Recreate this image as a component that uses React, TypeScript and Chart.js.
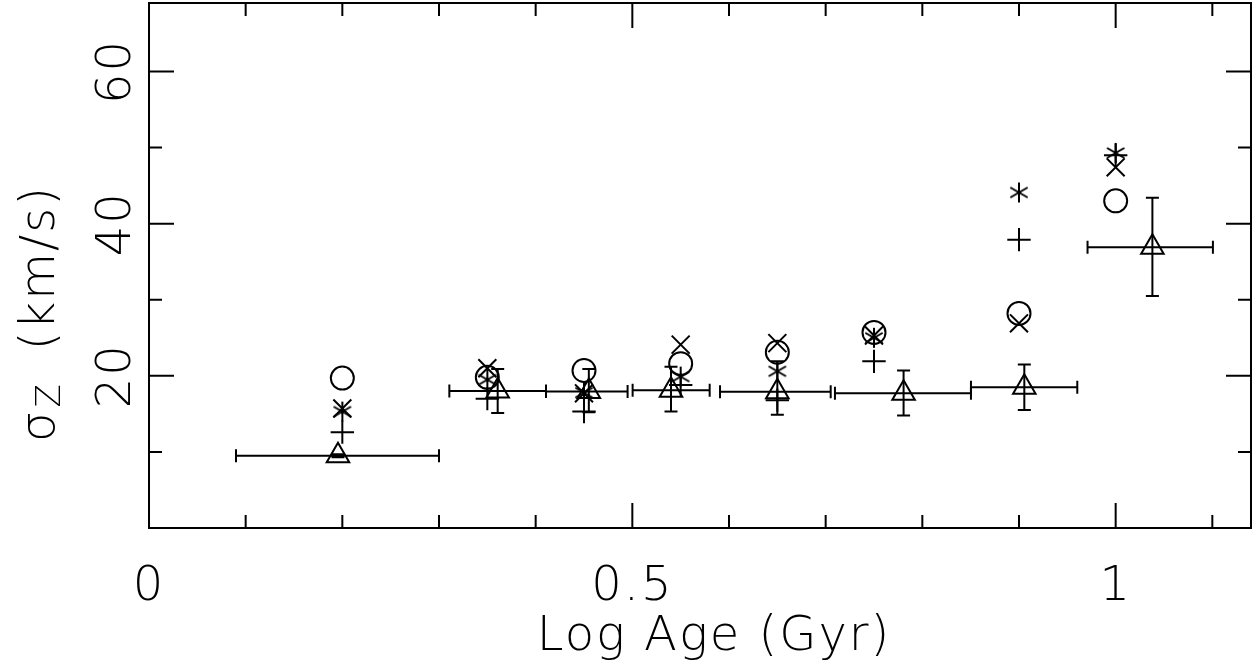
import { useEffect, useRef } from "react";
import { Chart, registerables } from "chart.js";

Chart.register(...registerables);

// Bin centres (log age, Gyr) used by the comparison samples
const sampleAges = [0.2, 0.35, 0.45, 0.55, 0.65, 0.75, 0.9, 1.0];

// Vertical velocity dispersion of the comparison samples (km/s)
const sigmaCircle = [19.7, 19.8, 20.7, 21.6, 23.1, 25.7, 28.2, 43.0];
const sigmaCrossRot = [15.7, 21.0, 17.7, 24.1, 24.3, 25.3, 26.9, 47.4];
const sigmaStar = [15.3, 19.5, 17.8, 19.9, 20.6, 25.0, 44.1, 49.3];
const sigmaPlus = [12.6, 17.0, 15.3, 18.8, 16.8, 21.9, 37.9, 49.0];

// Main sample: bin centre, bin edges and dispersion with its uncertainty
const binAge = [0.1955, 0.3607, 0.455, 0.54, 0.65, 0.7806, 0.9055, 1.038];
const binAgeLow = [0.09, 0.3107, 0.4107, 0.5003, 0.5907, 0.7096, 0.8503, 0.9709];
const binAgeHigh = [0.3, 0.4107, 0.4951, 0.58, 0.7052, 0.8503, 0.9603, 1.1006];
const binSigma = [9.5, 18.0, 17.95, 18.1, 17.9, 17.7, 18.5, 36.9];
const binSigmaLow = [9.3, 15.1, 15.2, 15.3, 14.9, 14.8, 15.5, 30.5];
const binSigmaHigh = [9.7, 20.9, 20.9, 21.2, 21.9, 20.7, 21.5, 43.4];

// Axis ticks and labels
const xMajorTicks = [0, 0.5, 1];
const xTickLabels = ["0", "0.5", "1"];
const xMinorTicks = [0.1, 0.2, 0.3, 0.4, 0.6, 0.7, 0.8, 0.9, 1.1];
const yMajorTicks = [20, 40, 60];
const yTickLabels = ["20", "40", "60"];
const yMinorTicks = [10, 30, 50];

const xTitle = "Log Age (Gyr)";
const yTitleSymbol = "σ";
const yTitleSub = "Z";
const yTitleUnit = "(km/s)";

const FONT_FAMILY = '"DejaVu Sans", "Liberation Sans", sans-serif';
const INK = "#000";

function makeAsterisk(r: number, lw: number): HTMLCanvasElement {
  const size = 2 * Math.ceil(r + lw);
  const c = document.createElement("canvas");
  c.width = size;
  c.height = size;
  const g = c.getContext("2d")!;
  g.strokeStyle = INK;
  g.lineWidth = lw;
  g.translate(size / 2, size / 2);
  for (let k = 0; k < 3; k++) {
    const ang = Math.PI / 2 + (k * Math.PI) / 3;
    g.beginPath();
    g.moveTo(Math.cos(ang) * r, Math.sin(ang) * r);
    g.lineTo(-Math.cos(ang) * r, -Math.sin(ang) * r);
    g.stroke();
  }
  return c;
}

const toPoints = (xs: number[], ys: number[]) => xs.map((x, i) => ({ x, y: ys[i] }));

const errorBarPlugin = {
  id: "errorBars",
  afterDatasetsDraw(chart: any) {
    const { ctx, scales } = chart;
    const xs = scales.x;
    const ys = scales.y;
    const cap = 6.5;
    ctx.save();
    ctx.strokeStyle = INK;
    ctx.lineWidth = 2;
    for (let i = 0; i < binAge.length; i++) {
      const px = xs.getPixelForValue(binAge[i]);
      const py = ys.getPixelForValue(binSigma[i]);
      const x0 = xs.getPixelForValue(binAgeLow[i]);
      const x1 = xs.getPixelForValue(binAgeHigh[i]);
      const y0 = ys.getPixelForValue(binSigmaLow[i]);
      const y1 = ys.getPixelForValue(binSigmaHigh[i]);
      ctx.beginPath();
      ctx.moveTo(x0, py);
      ctx.lineTo(x1, py);
      ctx.moveTo(x0, py - cap);
      ctx.lineTo(x0, py + cap);
      ctx.moveTo(x1, py - cap);
      ctx.lineTo(x1, py + cap);
      ctx.moveTo(px, y0);
      ctx.lineTo(px, y1);
      ctx.moveTo(px - cap, y0);
      ctx.lineTo(px + cap, y0);
      ctx.moveTo(px - cap, y1);
      ctx.lineTo(px + cap, y1);
      ctx.stroke();
    }
    ctx.restore();
  },
};

const framePlugin = {
  id: "frame",
  afterDraw(chart: any) {
    const { ctx, chartArea: a, scales } = chart;
    const xs = scales.x;
    const ys = scales.y;
    const major = 25;
    const minor = 13;
    ctx.save();
    ctx.strokeStyle = INK;
    ctx.lineWidth = 2;
    ctx.strokeRect(a.left, a.top, a.right - a.left, a.bottom - a.top);

    ctx.beginPath();
    const xTick = (v: number, len: number) => {
      const p = xs.getPixelForValue(v);
      ctx.moveTo(p, a.bottom);
      ctx.lineTo(p, a.bottom - len);
      ctx.moveTo(p, a.top);
      ctx.lineTo(p, a.top + len);
    };
    const yTick = (v: number, len: number) => {
      const p = ys.getPixelForValue(v);
      ctx.moveTo(a.left, p);
      ctx.lineTo(a.left + len, p);
      ctx.moveTo(a.right, p);
      ctx.lineTo(a.right - len, p);
    };
    xMajorTicks.forEach((v) => xTick(v, major));
    xMinorTicks.forEach((v) => xTick(v, minor));
    yMajorTicks.forEach((v) => yTick(v, major));
    yMinorTicks.forEach((v) => yTick(v, minor));
    ctx.stroke();

    ctx.fillStyle = INK;
    const mainFont = `200 48px ${FONT_FAMILY}`;
    const subFont = `200 34px ${FONT_FAMILY}`;
    ctx.font = mainFont;
    (ctx as any).letterSpacing = "2px";
    ctx.textAlign = "center";
    ctx.textBaseline = "alphabetic";
    xMajorTicks.forEach((v, i) => {
      ctx.fillText(xTickLabels[i], xs.getPixelForValue(v), a.bottom + 72);
    });
    ctx.fillText(xTitle, (a.left + a.right) / 2 + 14, a.bottom + 122);

    yMajorTicks.forEach((v, i) => {
      ctx.save();
      ctx.translate(a.left - 19, ys.getPixelForValue(v));
      ctx.rotate(-Math.PI / 2);
      ctx.fillText(yTickLabels[i], 0, 0);
      ctx.restore();
    });

    // Rotated y title: symbol with subscript near the bottom, units above
    ctx.save();
    ctx.translate(54, 0);
    ctx.rotate(-Math.PI / 2);
    ctx.textAlign = "left";
    ctx.font = mainFont;
    const wSym = ctx.measureText(yTitleSymbol).width;
    const symStart = -442;
    ctx.fillText(yTitleSymbol, symStart, 0);
    ctx.font = subFont;
    ctx.fillText(yTitleSub, symStart + wSym + 2, 6);
    ctx.font = mainFont;
    ctx.textAlign = "right";
    ctx.fillText(yTitleUnit, -185, 0);
    ctx.restore();

    ctx.restore();
  },
};

export default function App() {
  const canvasRef = useRef<HTMLCanvasElement | null>(null);

  useEffect(() => {
    document.body.style.margin = "0";
    const canvas = canvasRef.current;
    if (!canvas) return;
    const asterisk = makeAsterisk(10, 2);
    const marker = (label: string, data: { x: number; y: number }[], pointStyle: any, radius: number) => ({
      label,
      data,
      showLine: false,
      pointStyle,
      pointRadius: radius,
      pointHoverRadius: radius,
      borderColor: INK,
      backgroundColor: "rgba(0,0,0,0)",
      borderWidth: 2,
      pointBorderWidth: 2,
    });

    const chart = new Chart(canvas, {
      type: "scatter",
      data: {
        datasets: [
          marker("circle", toPoints(sampleAges, sigmaCircle), "circle", 11.5),
          marker("crossRot", toPoints(sampleAges, sigmaCrossRot), "crossRot", 12.7),
          marker("star", toPoints(sampleAges, sigmaStar), asterisk, 10),
          marker("plus", toPoints(sampleAges, sigmaPlus), "cross", 11.7),
          marker("bins", toPoints(binAge, binSigma), "triangle", 13),
        ],
      },
      options: {
        animation: false,
        responsive: false,
        events: [],
        layout: { autoPadding: false, padding: { left: 149, top: 3, right: 6, bottom: 139 } },
        plugins: { legend: { display: false }, tooltip: { enabled: false } },
        scales: {
          x: { type: "linear", min: 0, max: 1.14, display: false },
          y: { type: "linear", min: 0, max: 69, display: false },
        },
      },
      plugins: [errorBarPlugin, framePlugin],
    });
    return () => chart.destroy();
  }, []);

  return (
    <div style={{ width: 1257, height: 667 }}>
      <canvas ref={canvasRef} width={1257} height={667} />
    </div>
  );
}
